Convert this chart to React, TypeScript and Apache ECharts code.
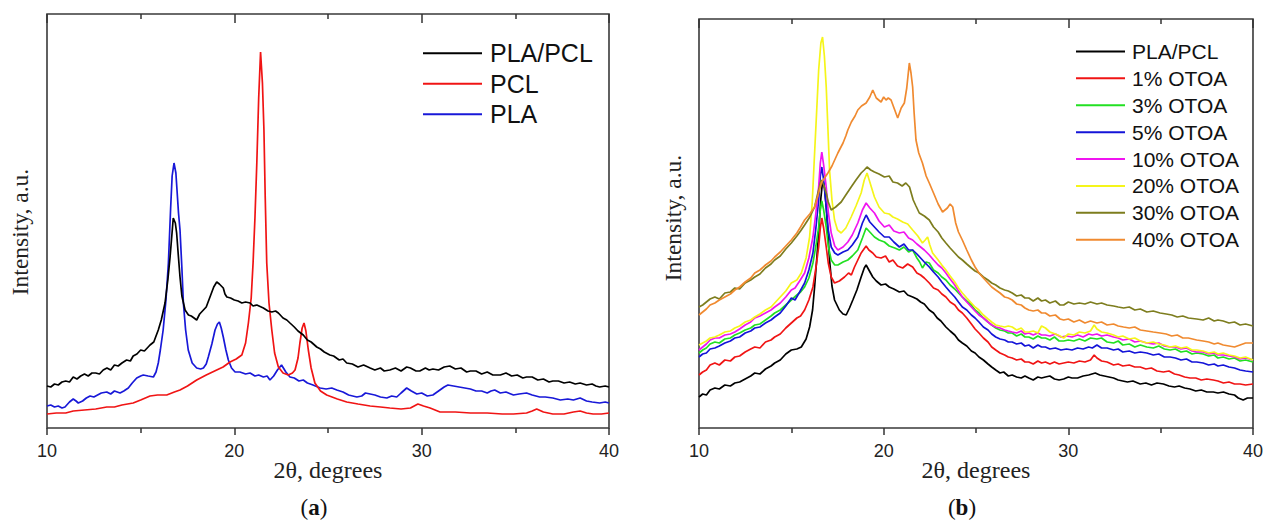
import React, { useEffect, useRef } from "react";
import * as echarts from "echarts";

// ---------- Data (2θ in degrees, intensity in arbitrary units) ----------
const xTickValues = [10, 20, 30, 40];

const namesA = ["PLA/PCL", "PCL", "PLA"];
const namesB = ["PLA/PCL", "1% OTOA", "3% OTOA", "5% OTOA", "10% OTOA", "20% OTOA", "30% OTOA", "40% OTOA"];

const colorsA = ["#000000", "#f01414", "#1818d8"];
const colorsB = ["#000000", "#f01414", "#22e022", "#1414d8", "#f014f0", "#f5f51a", "#7d7d1e", "#f08a30"];

const plaPclA = [
  [10, 42], [10.2, 41], [10.4, 44], [10.6, 43], [10.8, 46], [11.0, 47], [11.2, 46], [11.4, 51], [11.6, 49], [11.8, 52],
  [12.0, 54], [12.2, 52], [12.4, 55], [12.6, 55], [12.8, 54], [13.0, 58], [13.2, 60], [13.4, 58], [13.6, 63], [13.8, 62],
  [14.0, 65], [14.25, 68], [14.45, 67], [14.6, 72], [14.8, 74], [15.0, 78], [15.2, 77], [15.5, 83], [15.7, 86], [15.94, 98],
  [16.1, 108], [16.3, 125], [16.45, 148], [16.57, 171], [16.74, 210], [16.85, 205], [16.92, 195], [17.0, 175], [17.1, 151],
  [17.2, 132], [17.37, 118], [17.55, 113], [17.7, 112], [17.85, 110], [17.99, 108], [18.15, 114], [18.35, 118], [18.5, 121],
  [18.7, 131], [18.9, 141], [19.06, 146], [19.2, 144], [19.41, 140], [19.5, 134], [19.6, 131], [19.8, 130], [20.0, 128],
  [20.2, 127], [20.4, 125], [20.6, 126], [20.84, 125], [21.0, 122], [21.2, 123], [21.55, 120], [21.8, 117], [22.0, 116],
  [22.2, 117], [22.35, 115], [22.6, 110], [22.8, 108], [22.97, 105], [23.2, 101], [23.4, 97], [23.68, 93], [23.9, 88],
  [24.1, 86], [24.4, 81], [24.6, 79], [24.8, 76], [25.1, 73], [25.3, 72], [25.6, 68], [25.8, 69], [26.0, 65], [26.3, 64],
  [26.6, 61], [26.9, 63], [27.25, 60], [27.5, 58], [27.8, 60], [28.0, 57], [28.3, 58], [28.6, 60], [28.9, 57], [29.2, 61],
  [29.4, 60], [29.7, 57], [29.9, 57], [30.2, 60], [30.4, 58], [30.6, 59], [30.9, 58], [31.2, 61], [31.5, 62], [31.8, 59],
  [32.1, 60], [32.4, 56], [32.6, 57], [32.9, 57], [33.2, 54], [33.5, 56], [33.8, 53], [34.2, 53], [34.5, 55], [34.8, 52],
  [35.1, 53], [35.4, 50], [35.6, 51], [35.9, 51], [36.2, 48], [36.5, 49], [36.8, 46], [37.0, 47], [37.3, 47], [37.6, 45],
  [37.9, 46], [38.2, 44], [38.46, 45], [38.8, 43], [39.1, 44], [39.3, 42], [39.5, 41], [39.8, 42], [40, 41],
];

const pclA = [
  [10, 14], [10.5, 15], [11.0, 15], [11.4, 17], [12.0, 18], [12.6, 19], [13.19, 21], [13.6, 21], [14.0, 23], [14.6, 25],
  [15.0, 28], [15.5, 32], [15.9, 33], [16.39, 33], [16.8, 36], [17.1, 38], [17.5, 42], [17.99, 48], [18.5, 53], [19.06, 58],
  [19.4, 61], [19.77, 66], [20.1, 69], [20.4, 73], [20.6, 85], [20.75, 105], [20.9, 130], [21.0, 165], [21.1, 210],
  [21.2, 265], [21.3, 330], [21.4, 376], [21.5, 345], [21.58, 298], [21.65, 230], [21.73, 165], [21.85, 125], [22.0, 98],
  [22.15, 75], [22.35, 61], [22.6, 55], [22.88, 53], [23.1, 55], [23.24, 58], [23.4, 70], [23.5, 85], [23.62, 100],
  [23.72, 105], [23.82, 97], [23.95, 78], [24.1, 60], [24.3, 45], [24.6, 37], [24.93, 33], [25.5, 29], [26.0, 26],
  [26.6, 24], [27.25, 22], [27.8, 21], [28.3, 20], [28.9, 19], [29.4, 20], [29.6, 22], [29.8, 24], [30.1, 22], [30.45, 20],
  [30.98, 16], [31.8, 16], [32.6, 15], [33.5, 15], [34.3, 14], [34.9, 14], [35.6, 15], [35.9, 17], [36.14, 19], [36.5, 16],
  [37.0, 14], [37.6, 14], [38.1, 16], [38.46, 17], [38.8, 15], [39.15, 14], [39.6, 14], [40, 15],
];

const plaA = [
  [10, 22], [10.2, 23], [10.4, 21], [10.6, 22], [10.8, 20], [10.96, 21], [11.2, 26], [11.4, 29], [11.55, 27], [11.67, 25],
  [11.9, 27], [12.1, 30], [12.3, 32], [12.5, 31], [12.7, 33], [12.9, 35], [13.19, 36], [13.4, 34], [13.6, 37], [13.9, 35],
  [14.1, 37], [14.34, 40], [14.55, 45], [14.79, 50], [15.0, 52], [15.14, 53], [15.4, 52], [15.68, 51], [15.82, 56],
  [15.94, 65], [16.05, 78], [16.2, 98], [16.35, 128], [16.48, 165], [16.6, 220], [16.68, 252], [16.78, 265], [16.88, 255],
  [16.95, 235], [17.02, 215], [17.1, 198], [17.2, 160], [17.28, 125], [17.4, 98], [17.54, 78], [17.75, 65], [17.99, 60],
  [18.2, 59], [18.35, 60], [18.5, 64], [18.61, 71], [18.8, 84], [18.97, 98], [19.1, 104], [19.2, 106], [19.3, 100],
  [19.41, 91], [19.55, 78], [19.68, 68], [19.85, 60], [20.04, 56], [20.3, 56], [20.6, 54], [20.84, 55], [21.1, 52],
  [21.3, 53], [21.55, 51], [21.75, 52], [21.9, 48], [22.1, 52], [22.3, 58], [22.52, 63], [22.75, 56], [22.97, 51],
  [23.2, 50], [23.45, 47], [23.68, 48], [23.9, 45], [24.2, 43], [24.58, 40], [24.9, 39], [25.2, 40], [25.47, 38],
  [25.8, 36], [26.1, 33], [26.54, 31], [26.8, 32], [27.0, 35], [27.25, 34], [27.5, 33], [27.8, 31], [28.14, 30],
  [28.4, 32], [28.67, 31], [28.9, 35], [29.2, 40], [29.45, 37], [29.74, 34], [30.0, 35], [30.3, 32], [30.6, 33],
  [30.9, 37], [31.2, 41], [31.4, 43], [31.7, 42], [32.0, 41], [32.3, 40], [32.6, 39], [32.9, 37], [33.2, 37], [33.5, 35],
  [33.7, 37], [33.9, 38], [34.2, 35], [34.5, 36], [34.9, 33], [35.2, 34], [35.6, 35], [35.9, 33], [36.3, 31], [36.6, 31],
  [37.0, 30], [37.4, 28], [37.8, 29], [38.1, 28], [38.46, 30], [38.8, 27], [39.1, 26], [39.5, 25], [39.8, 26], [40, 25],
];

const plaPclB = [
  [10, 31], [10.2, 34], [10.4, 33], [10.6, 38], [10.86, 40], [11.1, 39], [11.4, 43], [11.7, 42], [11.94, 45], [12.2, 46],
  [12.5, 49], [12.8, 52], [13.02, 55], [13.3, 54], [13.6, 59], [13.9, 62], [14.1, 65], [14.4, 68], [14.7, 74], [15.0, 78],
  [15.3, 79], [15.54, 81], [15.8, 89], [15.99, 101], [16.15, 118], [16.26, 141], [16.38, 170], [16.48, 195], [16.6, 230],
  [16.7, 248], [16.8, 240], [16.89, 221], [16.98, 195], [17.07, 168], [17.2, 142], [17.34, 128], [17.6, 118], [17.8, 114],
  [17.97, 113], [18.15, 120], [18.33, 128], [18.55, 138], [18.78, 151], [18.95, 160], [19.05, 163], [19.2, 158],
  [19.41, 151], [19.6, 147], [19.86, 143], [20.1, 144], [20.3, 141], [20.55, 139], [20.85, 136], [21.1, 137], [21.3, 133],
  [21.57, 131], [21.8, 129], [22.0, 126], [22.2, 124], [22.47, 118], [22.7, 115], [22.9, 110], [23.1, 107], [23.37, 101],
  [23.6, 97], [23.85, 93], [24.05, 88], [24.26, 85], [24.5, 82], [24.75, 77], [24.95, 75], [25.16, 71], [25.4, 68],
  [25.65, 64], [25.85, 61], [26.07, 58], [26.3, 55], [26.5, 56], [26.75, 52], [26.96, 53], [27.2, 51], [27.45, 50],
  [27.65, 52], [27.86, 50], [28.1, 48], [28.35, 51], [28.55, 50], [28.76, 51], [29.0, 52], [29.25, 49], [29.5, 48],
  [29.75, 49], [30.0, 51], [30.2, 50], [30.5, 50], [30.8, 52], [31.1, 53], [31.46, 55], [31.7, 53], [31.95, 52], [32.2, 51],
  [32.45, 50], [32.7, 48], [32.95, 47], [33.2, 46], [33.5, 47], [33.89, 44], [34.2, 45], [34.5, 43], [34.8, 45], [35.15, 44],
  [35.45, 42], [35.75, 41], [36.0, 42], [36.3, 40], [36.59, 39], [36.9, 37], [37.2, 38], [37.5, 36], [37.85, 36], [38.1, 35],
  [38.4, 36], [38.7, 34], [39.0, 33], [39.2, 30], [39.47, 28], [39.7, 30], [40, 30],
];

const otoa1 = [
  [10, 53], [10.2, 56], [10.4, 58], [10.6, 63], [10.86, 65], [11.1, 63], [11.4, 68], [11.7, 67], [11.94, 71], [12.2, 72],
  [12.5, 76], [12.8, 79], [13.02, 81], [13.3, 80], [13.6, 86], [13.9, 88], [14.1, 91], [14.4, 94], [14.7, 100], [15.0, 105],
  [15.3, 110], [15.5, 112], [15.72, 118], [15.95, 128], [16.17, 141], [16.33, 160], [16.48, 181], [16.57, 200], [16.65, 210],
  [16.75, 200], [16.89, 181], [17.0, 165], [17.16, 151], [17.34, 145], [17.6, 147], [17.88, 151], [18.1, 155], [18.25, 153],
  [18.42, 161], [18.6, 168], [18.78, 175], [19.05, 182], [19.2, 178], [19.41, 175], [19.6, 171], [19.86, 170], [20.1, 172],
  [20.3, 166], [20.5, 168], [20.75, 162], [21.03, 160], [21.3, 164], [21.57, 161], [21.8, 155], [22.0, 153], [22.2, 150],
  [22.47, 145], [22.7, 140], [22.95, 138], [23.15, 134], [23.37, 131], [23.6, 126], [23.85, 123], [24.05, 118], [24.26, 115],
  [24.5, 110], [24.75, 104], [24.95, 99], [25.16, 95], [25.4, 90], [25.65, 86], [25.85, 81], [26.07, 78], [26.3, 75],
  [26.55, 73], [26.75, 71], [26.96, 70], [27.2, 68], [27.45, 69], [27.65, 66], [27.86, 66], [28.1, 64], [28.35, 67],
  [28.55, 65], [28.76, 66], [29.0, 64], [29.25, 66], [29.5, 64], [29.75, 65], [30.0, 66], [30.3, 65], [30.6, 67], [30.9, 66],
  [31.2, 68], [31.4, 73], [31.55, 70], [31.8, 67], [32.1, 66], [32.45, 63], [32.7, 64], [32.95, 62], [33.3, 63], [33.6, 61],
  [33.89, 61], [34.2, 59], [34.5, 60], [34.8, 57], [35.15, 56], [35.45, 57], [35.75, 54], [36.0, 53], [36.3, 51], [36.59, 50],
  [36.9, 50], [37.2, 48], [37.5, 49], [37.85, 48], [38.1, 47], [38.4, 45], [38.7, 46], [39.0, 44], [39.3, 44], [39.6, 43],
  [40, 44],
];

const otoa3 = [
  [10, 75], [10.2, 78], [10.4, 80], [10.6, 84], [10.86, 86], [11.1, 85], [11.4, 89], [11.7, 90], [11.94, 93], [12.2, 95],
  [12.5, 98], [12.8, 100], [13.02, 103], [13.3, 104], [13.6, 108], [13.9, 112], [14.1, 115], [14.4, 118], [14.7, 123],
  [15.0, 128], [15.3, 133], [15.5, 136], [15.72, 141], [15.95, 150], [16.17, 165], [16.33, 182], [16.48, 201], [16.57, 218],
  [16.65, 227], [16.75, 218], [16.89, 201], [17.0, 182], [17.16, 168], [17.35, 163], [17.52, 163], [17.8, 166], [18.06, 168],
  [18.3, 172], [18.6, 178], [18.85, 190], [19.05, 200], [19.25, 196], [19.5, 191], [19.75, 188], [20.04, 186], [20.3, 182],
  [20.6, 180], [20.85, 178], [21.1, 181], [21.35, 176], [21.57, 178], [21.8, 170], [21.95, 166], [22.1, 160], [22.3, 166],
  [22.47, 165], [22.7, 158], [22.95, 155], [23.15, 151], [23.37, 148], [23.6, 143], [23.85, 139], [24.05, 135], [24.26, 131],
  [24.5, 127], [24.75, 123], [24.95, 118], [25.16, 115], [25.4, 110], [25.65, 106], [25.85, 103], [26.07, 100], [26.3, 98],
  [26.55, 97], [26.75, 95], [26.96, 95], [27.2, 92], [27.45, 94], [27.65, 91], [27.86, 91], [28.1, 89], [28.35, 92],
  [28.55, 90], [28.76, 90], [29.0, 88], [29.25, 91], [29.5, 87], [29.75, 87], [30.0, 88], [30.3, 87], [30.6, 89], [30.9, 87],
  [31.2, 90], [31.55, 89], [31.8, 90], [32.1, 86], [32.45, 85], [32.7, 87], [32.95, 83], [33.3, 84], [33.6, 81], [33.9, 83],
  [34.25, 81], [34.6, 80], [34.9, 82], [35.2, 79], [35.51, 78], [35.8, 79], [36.1, 76], [36.4, 77], [36.7, 74], [36.95, 75],
  [37.3, 74], [37.6, 72], [37.9, 73], [38.1, 70], [38.39, 71], [38.7, 69], [39.0, 70], [39.3, 67], [39.6, 68], [40, 66],
];

const otoa5 = [
  [10, 71], [10.2, 74], [10.4, 75], [10.6, 79], [10.86, 80], [11.1, 82], [11.4, 85], [11.7, 87], [11.94, 90], [12.2, 91],
  [12.5, 95], [12.8, 97], [13.02, 100], [13.3, 101], [13.6, 105], [13.9, 108], [14.1, 111], [14.4, 115], [14.7, 122],
  [15.0, 130], [15.2, 128], [15.45, 136], [15.72, 145], [15.95, 158], [16.17, 175], [16.33, 200], [16.48, 228], [16.57, 252],
  [16.65, 261], [16.75, 248], [16.89, 221], [17.0, 198], [17.16, 181], [17.35, 175], [17.52, 173], [17.8, 176], [18.06, 178],
  [18.3, 183], [18.6, 191], [18.85, 205], [19.05, 213], [19.25, 206], [19.5, 201], [19.75, 196], [20.04, 191], [20.3, 191],
  [20.55, 186], [20.85, 181], [21.1, 184], [21.35, 178], [21.57, 178], [21.8, 174], [22.0, 170], [22.2, 166], [22.47, 161],
  [22.7, 156], [22.95, 151], [23.15, 146], [23.37, 141], [23.6, 136], [23.85, 131], [24.05, 126], [24.26, 121], [24.5, 118],
  [24.75, 113], [24.95, 110], [25.16, 106], [25.4, 101], [25.65, 98], [25.85, 94], [26.07, 91], [26.3, 89], [26.55, 88],
  [26.75, 86], [26.96, 86], [27.2, 84], [27.45, 85], [27.65, 82], [27.86, 83], [28.1, 80], [28.35, 83], [28.55, 81],
  [28.76, 81], [29.0, 79], [29.3, 80], [29.6, 78], [29.9, 79], [30.2, 78], [30.5, 80], [30.8, 79], [31.1, 81], [31.3, 80],
  [31.55, 83], [31.8, 80], [32.1, 80], [32.45, 78], [32.7, 79], [32.95, 76], [33.3, 77], [33.6, 75], [33.9, 76], [34.25, 75],
  [34.6, 73], [34.9, 74], [35.2, 71], [35.51, 71], [35.8, 70], [36.1, 68], [36.4, 69], [36.7, 66], [36.95, 66], [37.3, 65],
  [37.6, 63], [37.9, 64], [38.1, 62], [38.39, 63], [38.7, 61], [39.0, 60], [39.3, 58], [39.6, 57], [40, 56],
];

const otoa10 = [
  [10, 78], [10.2, 81], [10.4, 84], [10.6, 88], [10.86, 90], [11.1, 90], [11.4, 93], [11.7, 94], [11.94, 96], [12.2, 99],
  [12.5, 103], [12.8, 106], [13.02, 110], [13.3, 112], [13.6, 115], [13.9, 118], [14.1, 121], [14.4, 125], [14.7, 131],
  [15.0, 138], [15.2, 140], [15.45, 147], [15.72, 155], [15.95, 170], [16.17, 191], [16.33, 215], [16.48, 241], [16.57, 265],
  [16.65, 276], [16.75, 263], [16.89, 241], [17.0, 216], [17.16, 195], [17.35, 182], [17.52, 178], [17.8, 181], [18.06, 186],
  [18.3, 193], [18.6, 205], [18.85, 218], [19.05, 225], [19.25, 220], [19.5, 215], [19.75, 207], [20.04, 201], [20.3, 203],
  [20.55, 197], [20.85, 195], [21.1, 196], [21.35, 190], [21.57, 188], [21.8, 184], [22.0, 181], [22.2, 178], [22.47, 173],
  [22.7, 168], [22.95, 163], [23.15, 160], [23.37, 155], [23.6, 149], [23.85, 143], [24.05, 137], [24.26, 131], [24.5, 126],
  [24.75, 121], [24.95, 117], [25.16, 113], [25.4, 110], [25.65, 106], [25.85, 103], [26.07, 101], [26.3, 100], [26.55, 98],
  [26.75, 97], [26.96, 96], [27.2, 95], [27.45, 97], [27.65, 94], [27.86, 95], [28.1, 93], [28.35, 95], [28.55, 93],
  [28.76, 93], [29.0, 92], [29.3, 94], [29.6, 91], [29.9, 92], [30.2, 91], [30.5, 93], [30.8, 91], [31.1, 94], [31.3, 93],
  [31.55, 94], [31.8, 92], [32.1, 93], [32.45, 91], [32.7, 90], [32.95, 88], [33.3, 89], [33.6, 86], [33.9, 87], [34.25, 85],
  [34.6, 84], [34.9, 85], [35.2, 82], [35.51, 81], [35.8, 81], [36.1, 79], [36.4, 80], [36.7, 77], [36.95, 76], [37.3, 76],
  [37.6, 74], [37.9, 75], [38.1, 73], [38.39, 73], [38.7, 72], [39.0, 71], [39.3, 69], [39.6, 70], [40, 68],
];

const otoa20 = [
  [10, 83], [10.2, 85], [10.4, 87], [10.6, 90], [10.86, 91], [11.1, 93], [11.4, 96], [11.7, 97], [11.94, 100], [12.2, 102],
  [12.5, 106], [12.8, 108], [13.02, 111], [13.3, 114], [13.6, 118], [13.9, 121], [14.1, 125], [14.4, 131], [14.7, 137],
  [15.0, 145], [15.3, 148], [15.54, 155], [15.8, 170], [15.99, 191], [16.13, 225], [16.26, 275], [16.38, 320], [16.48, 358],
  [16.6, 385], [16.69, 391], [16.79, 372], [16.89, 341], [16.98, 300], [17.07, 258], [17.2, 228], [17.34, 208], [17.5, 198],
  [17.7, 195], [17.95, 200], [18.24, 211], [18.5, 222], [18.78, 235], [18.95, 248], [19.1, 255], [19.3, 243], [19.5, 231],
  [19.75, 221], [20.04, 215], [20.3, 214], [20.5, 211], [20.75, 209], [21.03, 206], [21.3, 204], [21.57, 198], [21.85, 192],
  [22.1, 185], [22.25, 188], [22.38, 191], [22.5, 183], [22.65, 175], [22.95, 168], [23.15, 163], [23.37, 158], [23.6, 152],
  [23.85, 146], [24.05, 140], [24.26, 135], [24.5, 130], [24.75, 125], [24.95, 121], [25.16, 118], [25.4, 113], [25.65, 109],
  [25.85, 106], [26.07, 103], [26.3, 102], [26.55, 101], [26.75, 102], [26.96, 101], [27.2, 98], [27.45, 100], [27.65, 96],
  [27.86, 96], [28.1, 97], [28.35, 95], [28.55, 102], [28.76, 100], [29.0, 96], [29.3, 94], [29.55, 92], [29.75, 90],
  [30.0, 94], [30.3, 93], [30.6, 96], [30.9, 95], [31.2, 97], [31.4, 103], [31.55, 99], [31.8, 96], [32.1, 95], [32.45, 93],
  [32.7, 91], [32.95, 92], [33.3, 89], [33.6, 90], [33.9, 87], [34.25, 85], [34.6, 86], [34.9, 84], [35.2, 83], [35.51, 81],
  [35.8, 82], [36.1, 80], [36.4, 81], [36.7, 78], [36.95, 78], [37.3, 77], [37.6, 75], [37.9, 76], [38.1, 74], [38.39, 75],
  [38.7, 73], [39.0, 72], [39.3, 70], [39.6, 71], [40, 68],
];

const otoa30 = [
  [10, 121], [10.2, 123], [10.4, 126], [10.6, 129], [10.86, 131], [11.1, 129], [11.4, 135], [11.7, 136], [11.94, 140],
  [12.2, 139], [12.5, 145], [12.8, 148], [13.02, 151], [13.3, 154], [13.6, 160], [13.9, 164], [14.1, 168], [14.4, 172],
  [14.7, 179], [15.0, 185], [15.3, 192], [15.5, 197], [15.72, 203], [16.0, 211], [16.26, 221], [16.45, 236], [16.62, 248],
  [16.75, 243], [16.89, 235], [17.0, 226], [17.16, 218], [17.4, 221], [17.7, 226], [17.95, 233], [18.24, 241], [18.5, 248],
  [18.78, 255], [18.95, 258], [19.1, 261], [19.3, 258], [19.5, 256], [19.75, 254], [20.04, 251], [20.3, 252], [20.5, 246],
  [20.75, 245], [21.0, 242], [21.2, 245], [21.4, 241], [21.6, 228], [21.75, 222], [21.93, 215], [22.2, 212], [22.47, 208],
  [22.7, 201], [22.95, 196], [23.15, 190], [23.37, 185], [23.6, 180], [23.85, 175], [24.05, 171], [24.26, 168], [24.5, 164],
  [24.75, 160], [24.95, 157], [25.16, 155], [25.4, 151], [25.65, 148], [25.85, 145], [26.07, 143], [26.3, 140], [26.55, 138],
  [26.75, 137], [26.96, 135], [27.2, 132], [27.45, 133], [27.65, 130], [27.86, 130], [28.1, 127], [28.35, 130], [28.55, 127],
  [28.76, 128], [29.0, 125], [29.3, 127], [29.55, 123], [29.75, 123], [30.0, 126], [30.3, 124], [30.6, 125], [30.9, 124],
  [31.2, 126], [31.55, 124], [31.8, 125], [32.1, 123], [32.45, 122], [32.7, 121], [32.99, 120], [33.3, 121], [33.6, 118],
  [33.9, 119], [34.25, 116], [34.6, 117], [34.97, 115], [35.3, 114], [35.6, 113], [35.9, 111], [36.2, 112], [36.5, 110],
  [36.95, 109], [37.3, 108], [37.6, 110], [37.9, 107], [38.1, 108], [38.39, 107], [38.7, 105], [39.0, 106], [39.3, 103],
  [39.6, 104], [40, 102],
];

const otoa40 = [
  [10, 113], [10.2, 116], [10.4, 119], [10.6, 123], [10.86, 125], [11.1, 128], [11.4, 131], [11.7, 134], [11.94, 138],
  [12.2, 141], [12.5, 146], [12.8, 150], [13.02, 155], [13.3, 158], [13.6, 163], [13.9, 167], [14.1, 171], [14.4, 176],
  [14.7, 182], [15.0, 188], [15.3, 195], [15.5, 201], [15.72, 208], [16.0, 214], [16.26, 221], [16.45, 233], [16.62, 245],
  [16.8, 250], [16.98, 255], [17.2, 262], [17.52, 275], [17.8, 285], [17.95, 292], [18.06, 298], [18.25, 306], [18.45, 312],
  [18.6, 318], [18.8, 322], [19.05, 325], [19.25, 331], [19.41, 338], [19.6, 330], [19.86, 326], [20.0, 331], [20.13, 328],
  [20.25, 330], [20.4, 328], [20.6, 318], [20.76, 310], [20.95, 320], [21.12, 325], [21.25, 340], [21.39, 365], [21.48, 355],
  [21.57, 341], [21.65, 315], [21.75, 288], [21.9, 275], [22.1, 265], [22.3, 252], [22.47, 245], [22.7, 235], [22.95, 224],
  [23.19, 216], [23.45, 220], [23.6, 224], [23.74, 221], [23.9, 205], [24.05, 196], [24.26, 188], [24.5, 178], [24.75, 168],
  [24.95, 161], [25.16, 155], [25.4, 150], [25.65, 145], [25.85, 141], [26.07, 138], [26.3, 135], [26.55, 131], [26.75, 130],
  [26.96, 128], [27.2, 124], [27.45, 123], [27.65, 120], [27.86, 118], [28.1, 117], [28.35, 118], [28.55, 115], [28.76, 115],
  [29.0, 112], [29.3, 113], [29.55, 109], [29.75, 108], [30.0, 109], [30.3, 106], [30.6, 108], [30.9, 105], [31.2, 107],
  [31.55, 105], [31.8, 106], [32.1, 103], [32.45, 104], [32.7, 102], [32.99, 101], [33.3, 100], [33.6, 101], [33.9, 98],
  [34.25, 97], [34.6, 96], [34.97, 95], [35.3, 94], [35.6, 92], [35.9, 93], [36.2, 90], [36.5, 90], [36.95, 88], [37.3, 87],
  [37.6, 86], [37.9, 84], [38.1, 85], [38.39, 83], [38.7, 82], [39.0, 81], [39.3, 83], [39.6, 85], [40, 85],
];

const dataA = [plaPclA, pclA, plaA];
const dataB = [plaPclB, otoa1, otoa3, otoa5, otoa10, otoa20, otoa30, otoa40];

// ---------- Chart ----------
const SANS = "'Liberation Sans', Arial, Helvetica, sans-serif";
const SERIF = "'Liberation Serif', 'Times New Roman', serif";

function xAxes(gridIndex: number) {
  const common = {
    type: "value" as const,
    gridIndex,
    min: xTickValues[0],
    max: xTickValues[xTickValues.length - 1],
    interval: 10,
    splitLine: { show: false },
    axisLine: { show: false },
  };
  return [
    {
      ...common,
      position: "bottom",
      axisTick: { show: true, inside: false, length: 7, lineStyle: { color: "#333", width: 1.5 } },
      minorTick: { show: true, splitNumber: 2, length: 5, lineStyle: { color: "#333", width: 1.5 } },
      axisLabel: {
        show: true,
        margin: 14,
        fontSize: 18,
        fontFamily: SANS,
        color: "#222",
      },
      name: "2θ, degrees",
      nameLocation: "middle",
      nameGap: 30,
      nameMoveOverlap: false,
      nameTextStyle: { fontFamily: SERIF, fontSize: 24, color: "#222" },
    },
    {
      ...common,
      position: "top",
      axisTick: { show: true, inside: true, length: 9, lineStyle: { color: "#333", width: 1.5 } },
      minorTick: { show: true, splitNumber: 2, length: 5, lineStyle: { color: "#333", width: 1.5 } },
      axisLabel: { show: false },
    },
  ];
}

export default function App() {
  const ref = useRef<HTMLDivElement>(null);

  useEffect(() => {
    if (!ref.current) return;
    const chart = echarts.init(ref.current, undefined, { renderer: "svg" });

    const seriesA = namesA.map((name, i) => ({
      name,
      type: "line",
      xAxisIndex: 0,
      yAxisIndex: 0,
      data: dataA[i],
      showSymbol: false,
      symbol: "none",
      color: colorsA[i],
      lineStyle: { width: 1.7, color: colorsA[i] },
      z: 3 - i,
    }));

    const seriesB = namesB.map((name, i) => ({
      name,
      type: "line",
      xAxisIndex: 2,
      yAxisIndex: 1,
      data: dataB[i],
      showSymbol: false,
      symbol: "none",
      color: colorsB[i],
      lineStyle: { width: 1.7, color: colorsB[i] },
    }));

    const caption = (letter: string, x: number) => ({
      type: "text",
      x,
      y: 507,
      style: {
        text: `{n|(}{b|${letter}}{n|)}`,
        align: "center",
        verticalAlign: "middle",
        rich: {
          n: { fontFamily: SERIF, fontSize: 23, fill: "#111" },
          b: { fontFamily: SERIF, fontSize: 23, fontWeight: "bold", fill: "#111" },
        },
      },
    });

    chart.setOption({
      animation: false,
      backgroundColor: "#ffffff",
      grid: [
        { left: 47, top: 14, width: 562, height: 414, show: true, borderColor: "#3a3a3a", borderWidth: 1.6, backgroundColor: "transparent" },
        { left: 699, top: 19, width: 556, height: 409, show: true, borderColor: "#3a3a3a", borderWidth: 1.6, backgroundColor: "transparent" },
      ],
      xAxis: [...xAxes(0), ...xAxes(1)],
      yAxis: [
        { type: "value", gridIndex: 0, min: 0, max: 414, show: true, axisLine: { show: false }, axisTick: { show: false }, axisLabel: { show: false }, splitLine: { show: false } },
        { type: "value", gridIndex: 1, min: 0, max: 409, show: true, axisLine: { show: false }, axisTick: { show: false }, axisLabel: { show: false }, splitLine: { show: false } },
      ],
      legend: [
        {
          data: namesA,
          left: 418,
          top: 33,
          orient: "vertical",
          icon: "rect",
          itemWidth: 59,
          itemHeight: 2,
          itemGap: 0,
          selectedMode: false,
          textStyle: { fontFamily: SANS, fontSize: 25, color: "#111", lineHeight: 30.5, padding: [0, 0, 0, 3] },
        },
        {
          data: namesB,
          left: 1071,
          top: 33,
          orient: "vertical",
          icon: "rect",
          itemWidth: 49,
          itemHeight: 2,
          itemGap: 0,
          selectedMode: false,
          textStyle: { fontFamily: SANS, fontSize: 21, color: "#111", lineHeight: 26.9, padding: [0, 0, 0, 2] },
        },
      ],
      graphic: [
        {
          type: "text",
          x: 20,
          y: 232,
          rotation: Math.PI / 2,
          style: { text: "Intensity, a.u.", fontFamily: SERIF, fontSize: 23.5, fill: "#222", align: "center", verticalAlign: "middle" },
        },
        {
          type: "text",
          x: 673,
          y: 218,
          rotation: Math.PI / 2,
          style: { text: "Intensity, a.u.", fontFamily: SERIF, fontSize: 23.5, fill: "#222", align: "center", verticalAlign: "middle" },
        },
        caption("a", 314),
        caption("b", 962),
      ],
      series: [...seriesA, ...seriesB],
    });

    return () => chart.dispose();
  }, []);

  return (
    <div
      ref={ref}
      style={{ position: "absolute", left: 0, top: 0, width: 1266, height: 522, background: "#fff" }}
    />
  );
}
